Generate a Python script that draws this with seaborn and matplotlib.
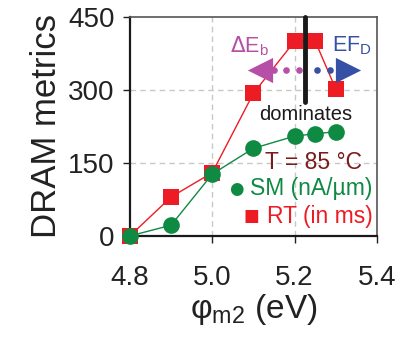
import numpy as np
import pandas as pd
import matplotlib
matplotlib.use("Agg")
import matplotlib.pyplot as plt
import seaborn as sns

# values
phi_rt = [4.8, 4.9, 5.0, 5.1, 5.2, 5.25, 5.3]
rt_ms = [0, 80, 130, 293, 400, 400, 302]
phi_sm = [4.8, 4.9, 5.0, 5.1, 5.2, 5.25, 5.3]
sm_na = [0, 22, 127, 180, 205, 210, 214]
x_ticks = [4.8, 5.0, 5.2, 5.4]
y_ticks = [0, 150, 300, 450]

red = "#ed1c24"
green = "#0f8a43"
purple = "#b550a6"
blue = "#3550a5"

sns.set_theme(style="ticks")
plt.rcParams["font.family"] = ["Liberation Sans", "DejaVu Sans"]

df = pd.DataFrame({"phi": phi_rt, "RT": rt_ms, "SM": sm_na})

fig = plt.figure(figsize=(4.01, 3.38), dpi=100)
ax = fig.add_axes([0.324, 0.302, 0.616, 0.648])

for v in [5.0, 5.2]:
    ax.axvline(v, color="#c8c8c8", ls=(0, (4, 3)), lw=1, zorder=0)
for v in [150, 300]:
    ax.axhline(v, color="#c8c8c8", ls=(0, (4, 3)), lw=1, zorder=0)

sns.lineplot(data=df, x="phi", y="RT", ax=ax, color=red, lw=1, marker="s",
             markersize=12, markeredgewidth=0, clip_on=False, zorder=3)
sns.lineplot(data=df, x="phi", y="SM", ax=ax, color=green, lw=1, marker="o",
             markersize=12, markeredgewidth=0, clip_on=False, zorder=4)

# "dominates" divider and arrows
ax.plot([5.225, 5.225], [275, 450], color="#1a1a1a", lw=3.5, zorder=5, clip_on=False)
ax.scatter([5.15, 5.18, 5.21], [340, 340, 340], s=14, color=purple, zorder=4)
ax.scatter([5.255, 5.285], [340, 340], s=14, color=blue, zorder=4)
ax.scatter([5.115], [340], marker="<", s=330, color=purple, zorder=4, linewidths=0)
ax.scatter([5.33], [340], marker=">", s=330, color=blue, zorder=4, linewidths=0)
ax.text(5.09, 390, r"$\Delta$E$_\mathregular{b}$", color=purple, fontsize=15.5,
        ha="center", va="center")
ax.text(5.34, 390, r"EF$_\mathregular{D}$", color=blue, fontsize=15.5,
        ha="center", va="center")
ax.text(5.228, 250, "dominates", color="#1a1a1a", fontsize=14.5,
        ha="center", va="center")

ax.text(5.245, 150, "T = 85 °C", color="#7a1c1c", fontsize=16.5, ha="center", va="center")
ax.text(5.39, 97, "SM (nA/µm)", color=green, fontsize=16.5, ha="right", va="center")
ax.text(5.39, 40, "RT (in ms)", color=red, fontsize=16.5, ha="right", va="center")
ax.text(5.04, 97, "●", color=green, fontsize=12, ha="left", va="center",
        family=["DejaVu Sans"])
ax.text(5.075, 40, "■", color=red, fontsize=12, ha="left", va="center",
        family=["DejaVu Sans"])

ax.set_xlim(4.8, 5.4)
ax.set_ylim(0, 450)
ax.set_xticks(x_ticks)
ax.set_xticklabels([f"{v:.1f}" for v in x_ticks])
ax.set_yticks(y_ticks)
ax.tick_params(labelsize=20, length=5, width=1, colors="#222222", pad=6)
ax.tick_params(axis="x", pad=16)
ax.set_xlabel(r"φ$_\mathregular{m2}$ (eV)", fontsize=24, color="#222222", labelpad=1)
ax.set_ylabel("DRAM metrics", fontsize=25, color="#222222", labelpad=4)

for side in ["left", "bottom"]:
    ax.spines[side].set_color("#1a1a1a")
    ax.spines[side].set_linewidth(1.6)
for side in ["top", "right"]:
    ax.spines[side].set_visible(True)
    ax.spines[side].set_color("#555555")
    ax.spines[side].set_linewidth(1.2)

fig.savefig("out.png", dpi=100)
